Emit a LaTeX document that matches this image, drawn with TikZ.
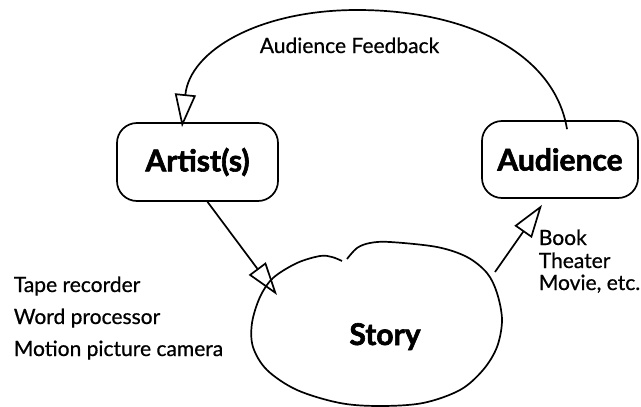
\documentclass[tikz,border=0pt]{standalone}
\usepackage{fontspec}
\setmainfont{Lato}[UprightFeatures={FakeBold=0.7}, BoldFeatures={FakeBold=2}]
\usetikzlibrary{arrows.meta}
\begin{document}
\begin{tikzpicture}[x=1pt,y=-1pt, line width=1.7pt,
  box/.style={draw, rounded corners=20pt, minimum width=161pt, minimum height=78pt, font=\fontsize{30}{30}\selectfont\bfseries, inner sep=0pt},
  lbl/.style={font=\fontsize{21}{21}\selectfont, anchor=base west, inner sep=0pt},
  flow/.style={-{Triangle[open, length=33pt, width=21pt]}},
]
\useasboundingbox (0,0) rectangle (641,407);
\node[box] (artist) at (197.5,162) {Artist(s)};
\node[box, minimum width=156pt, minimum height=77pt] (audience) at (560,159.5) {Audience};
\node[anchor=base, inner sep=0pt, font=\fontsize{30}{30}\selectfont\bfseries] (story) at (385,345) {Story};
% cloud
\draw plot[smooth, tension=0.55] coordinates {(347,259) (357,248) (370,243) (390,242) (437,247) (467,257) (487,273) (497,293) (502,320) (497,347) (483,370) (460,390) (423,403) (380,406) (340,403) (297,390) (267,370) (253,347) (252,323) (260,297) (273,278) (297,263) (320,256) (332,257) (342,261)};
\coordinate (sin) at (277,295);
\coordinate (sout) at (495,272);
% connectors
\draw[flow] ([xshift=10pt]artist.south) -- (sin);
\draw[flow] (sout) -- ([xshift=-18pt, yshift=-6pt]audience.south);
\draw[flow] ([xshift=7pt, yshift=-9pt]audience.north) .. controls (555,55) and (470,10) .. (357,10) .. controls (260,10) and (190,50) .. ([xshift=-15.5pt, yshift=-5pt]artist.north);
% labels
\node[lbl] (fbl) at (259,53) {Audience Feedback};
\node[lbl] (tape) at (13,292) {Tape recorder};
\node[lbl] (word) at (13,324) {Word processor};
\node[lbl] (motion) at (13,356) {Motion picture camera};
\node[lbl] (book) at (538,245) {Book};
\node[lbl] (theater) at (538,268) {Theater};
\node[lbl] (movie) at (538,290) {Movie, etc.};
\end{tikzpicture}
\end{document}
